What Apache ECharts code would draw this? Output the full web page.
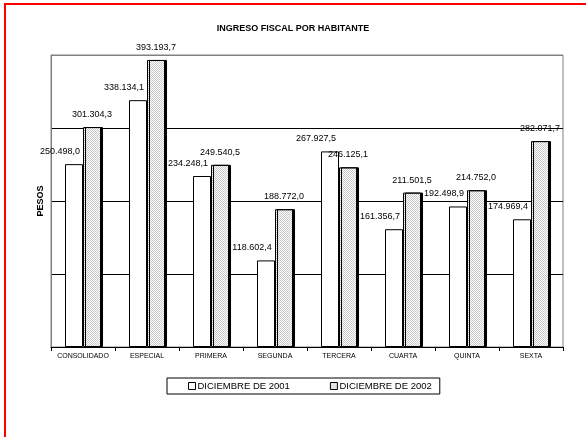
<!DOCTYPE html>
<html>
<head>
<meta charset="utf-8">
<script src="https://cdn.jsdelivr.net/npm/echarts@6/dist/echarts.min.js"></script>
<style>
  html, body { margin: 0; padding: 0; background: #fff; }
  #chart { width: 586px; height: 437px; }
</style>
</head>
<body>
<div id="chart"></div>
<script>
var categories = ['CONSOLIDADO', 'ESPECIAL', 'PRIMERA', 'SEGUNDA', 'TERCERA', 'CUARTA', 'QUINTA', 'SEXTA']
var dic2001 = [250498.0, 338134.1, 234248.1, 118602.4, 267927.5, 161356.7, 192498.9, 174969.4]
var dic2002 = [301304.3, 393193.7, 249540.5, 188772.0, 246125.1, 211501.5, 214752.0, 282071.7]
var seriesNames = ['DICIEMBRE DE 2001', 'DICIEMBRE DE 2002']

var FONT = 'Arial, "Liberation Sans", sans-serif'

// 1.234.567,8 style
function fmt(v) {
  var parts = v.toFixed(1).split('.')
  var ent = parts[0].replace(/\B(?=(\d{3})+(?!\d))/g, '.')
  return ent + ',' + parts[1]
}

// dotted fill like the excel pattern
function makePattern() {
  var c = document.createElement('canvas')
  c.width = 2
  c.height = 2
  var ctx = c.getContext('2d')
  ctx.fillStyle = '#ffffff'
  ctx.fillRect(0, 0, 2, 2)
  ctx.fillStyle = '#c8c8c8'
  ctx.fillRect(0, 0, 1, 1)
  ctx.fillRect(1, 1, 1, 1)
  return c
}
var pattern = makePattern()

var chart = echarts.init(document.getElementById('chart'))
chart.setOption({
  backgroundColor: '#fff',
  animation: false,
  textStyle: { fontFamily: FONT },
  title: {
    text: 'INGRESO FISCAL POR HABITANTE',
    left: 'center',
    top: 19,
    textStyle: { fontSize: 9, fontWeight: 'bold', color: '#000', fontFamily: FONT }
  },
  graphic: [{
    type: 'polyline',
    shape: { points: [[5, 437], [5, 4], [586, 4]] },
    style: { stroke: '#ff0000', lineWidth: 2, fill: null }
  }],
  legend: {
    left: 167,
    top: 378,
    padding: [3, 8, 3, 21],
    itemGap: 40,
    itemWidth: 7,
    itemHeight: 7,
    borderColor: '#000',
    borderWidth: 1,
    icon: 'rect',
    itemStyle: { borderColor: '#000', borderWidth: 1, shadowOffsetX: 0, shadowColor: 'transparent' },
    textStyle: { fontSize: 9.5, color: '#000', fontFamily: FONT, padding: [0, 0, 0, -3] },
    data: seriesNames
  },
  grid: {
    left: 51,
    right: 23,
    top: 55,
    bottom: 90,
    show: true,
    borderColor: '#808080',
    borderWidth: 1
  },
  xAxis: {
    type: 'category',
    data: categories,
    axisLine: { lineStyle: { color: '#000', width: 1 } },
    axisTick: { show: true, length: 4, lineStyle: { color: '#000' } },
    axisLabel: { interval: 0, fontSize: 7, color: '#000', margin: 6, fontFamily: FONT }
  },
  yAxis: {
    type: 'value',
    min: 0,
    max: 400000,
    interval: 100000,
    name: 'PESOS',
    nameLocation: 'middle',
    nameGap: 6,
    nameTextStyle: { fontSize: 9, fontWeight: 'bold', color: '#000', fontFamily: FONT },
    axisLabel: { show: false },
    axisTick: { show: false },
    axisLine: { show: true, lineStyle: { color: '#808080' } },
    splitLine: {
      show: true,
      lineStyle: { color: ['#000', '#000', '#000', '#000', '#808080'], width: 1 }
    }
  },
  series: [
    {
      name: seriesNames[0],
      type: 'bar',
      barWidth: 18,
      barGap: '0%',
      data: dic2001,
      itemStyle: {
        color: '#fff',
        borderColor: '#000',
        borderWidth: 1
      },
      label: {
        show: true,
        position: 'top',
        offset: [-14, -3],
        fontSize: 9,
        color: '#000',
        fontFamily: FONT,
        formatter: function (p) { return fmt(p.value) }
      }
    },
    {
      name: seriesNames[1],
      type: 'bar',
      barWidth: 18,
      barGap: '0%',
      data: dic2002,
      itemStyle: {
        color: { image: pattern, repeat: 'repeat' },
        borderColor: '#000',
        borderWidth: 1,
        shadowColor: '#000',
        shadowOffsetX: 2,
        shadowOffsetY: 0,
        shadowBlur: 0
      },
      label: {
        show: true,
        position: 'top',
        offset: [0, -3],
        fontSize: 9,
        color: '#000',
        fontFamily: FONT,
        formatter: function (p) { return fmt(p.value) }
      }
    }
  ]
})
</script>
</body>
</html>
